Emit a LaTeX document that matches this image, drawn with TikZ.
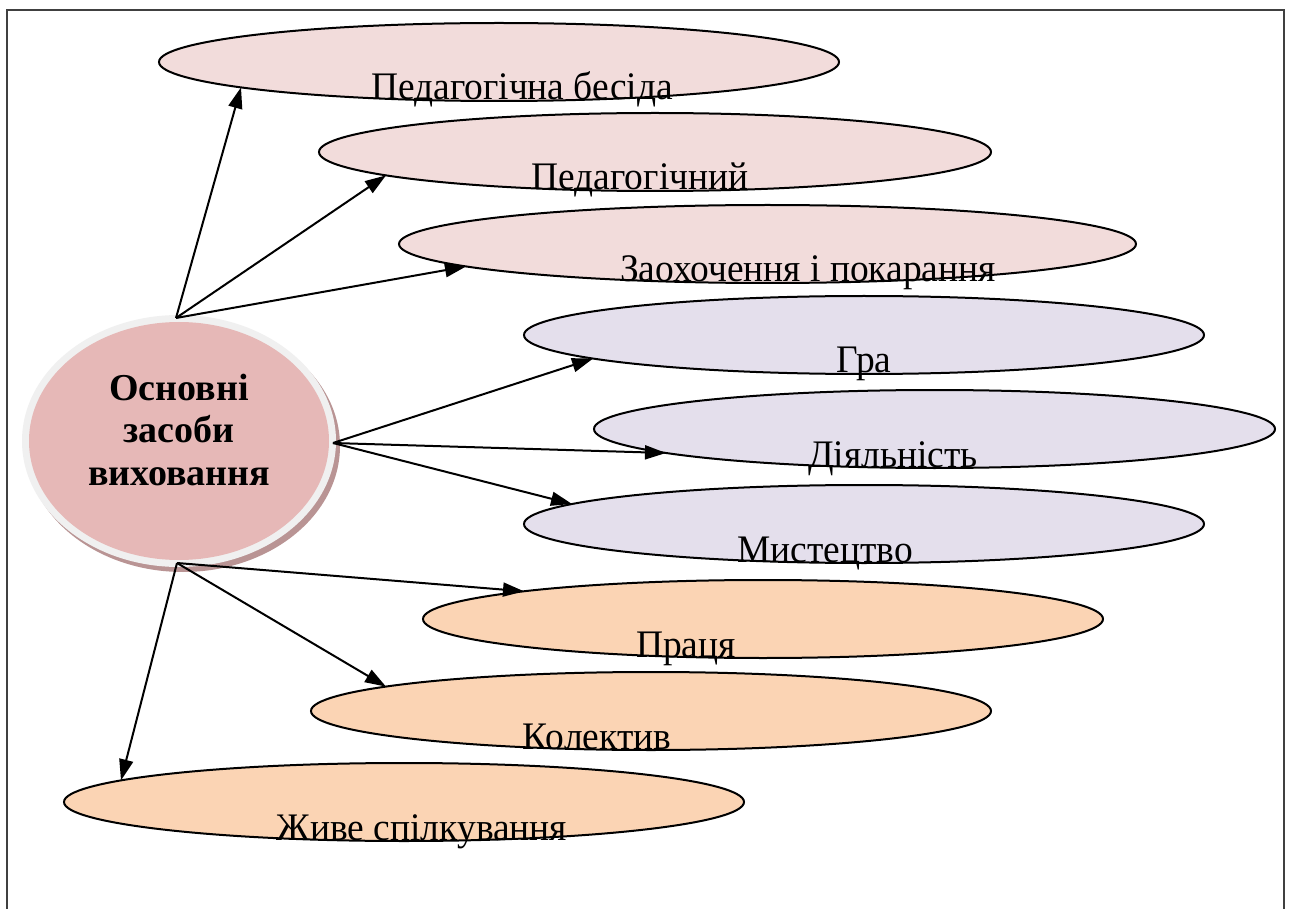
\documentclass[tikz,border=0pt]{standalone}
\usepackage{fontspec}
\setmainfont{Liberation Serif}
\newfontfamily\lblfont[FakeStretch=0.96]{Liberation Serif}
\usetikzlibrary{shapes.geometric,arrows.meta,calc}
\definecolor{pinkA}{HTML}{F2DCDB}
\definecolor{lavB}{HTML}{E4DFEC}
\definecolor{peachC}{HTML}{FBD4B4}
\definecolor{coreF}{HTML}{E6B8B7}
\definecolor{haloF}{HTML}{F0F0F0}
\definecolor{shadowF}{HTML}{B99494}
\definecolor{frameC}{HTML}{404040}
\begin{document}
\begin{tikzpicture}[x=1pt,y=-1pt,
  oval/.style={ellipse,draw=black,line width=2pt,minimum width=680pt,minimum height=78pt,inner sep=0pt,outer sep=0pt},
  blob/.style={ellipse,inner sep=0pt,outer sep=0pt},
  lbl/.style={anchor=base,font=\lblfont\fontsize{39}{42}\selectfont,inner sep=0pt},
  arr/.style={-{Triangle[length=21pt,width=14pt]},line width=2pt}]
\useasboundingbox (0,0) rectangle (1291,909);
\fill[white] (0,0) rectangle (1291,909);
\draw[frameC,line width=2.5pt] (7,912) -- (7,10) -- (1284,10) -- (1284,912);
% ovals
\node[oval,fill=pinkA] (e1) at (499,62) {};
\node[oval,fill=pinkA,minimum width=672pt] (e2) at (655,152) {};
\node[oval,fill=pinkA,minimum width=737pt] (e3) at (767.5,244) {};
\node[oval,fill=lavB] (e4) at (864,335) {};
\node[oval,fill=lavB,minimum width=681pt] (e5) at (934.5,429) {};
\node[oval,fill=lavB] (e6) at (864,524) {};
\node[oval,fill=peachC] (e7) at (763,619) {};
\node[oval,fill=peachC] (e8) at (651,711) {};
\node[oval,fill=peachC] (e9) at (404,802) {};
% labels
\node[lbl] (t1) at (522,100) {Педагогічна бесіда};
\node[lbl] (t2) at (640,190) {Педагогічний};
\node[lbl] (t3) at (808,282) {Заохочення і покарання};
\node[lbl] (t4) at (864,373) {Гра};
\node[lbl] (t5) at (893,467) {Діяльність};
\node[lbl] (t6) at (825,562) {Мистецтво};
\node[lbl] (t7) at (686,657) {Праця};
\node[lbl] (t8) at (597,749) {Колектив};
\node[lbl] (t9) at (422,840) {Живе спілкування};
% central ellipse
\node[blob,fill=shadowF,minimum width=314pt,minimum height=252pt] (csh) at (183,446) {};
\node[blob,fill=haloF,minimum width=314pt,minimum height=252pt] (c) at (179,441) {};
\node[blob,fill=coreF,minimum width=300pt,minimum height=238pt] (cc) at (179,441) {};
\node[font=\bfseries\fontsize{38}{42.5}\selectfont,align=center,inner sep=0pt] (ct) at (179,430) {Основні\\засоби\\виховання};
% arrows
\draw[arr] ($(c.north)+(-3,3)$) -- ($(e1.center)+(-258,25.4)$);
\draw[arr] ($(c.north)+(-3,3)$) -- ($(e2.center)+(-269,23.4)$);
\draw[arr] ($(c.north)+(-3,3)$) -- ($(e3.center)+(-301.5,22.5)$);
\draw[arr] ($(c.east)+(-3,2)$) -- ($(e4.center)+(-271,23.6)$);
\draw[arr] ($(c.east)+(-3,2)$) -- ($(e5.center)+(-268.5,24)$);
\draw[arr] ($(c.east)+(-3,2)$) -- ($(e6.center)+(-292,-20)$);
\draw[arr] ($(c.south)+(-2,-4)$) -- ($(e7.center)+(-239,-27.7)$);
\draw[arr] ($(c.south)+(-2,-4)$) -- ($(e8.center)+(-265,-24.4)$);
\draw[arr] ($(c.south)+(-2,-4)$) -- ($(e9.center)+(-283,-21.6)$);
\end{tikzpicture}
\end{document}
